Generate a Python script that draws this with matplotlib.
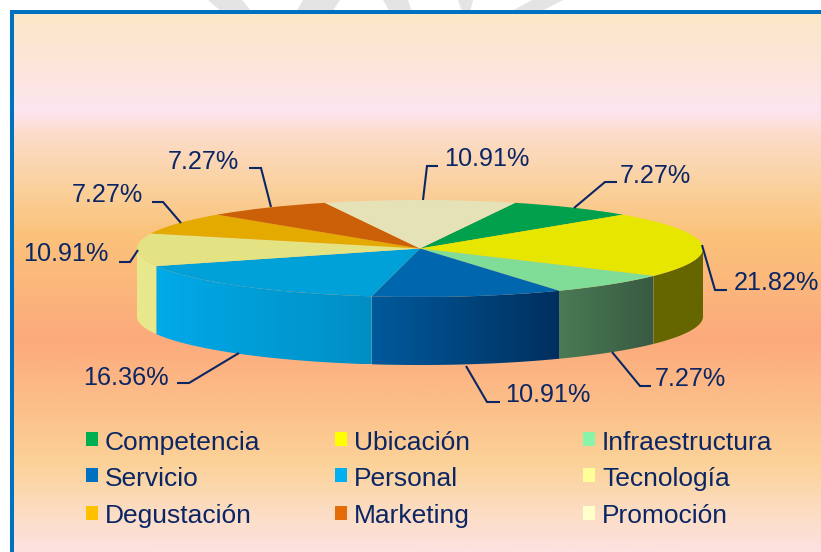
import numpy as np
import matplotlib
matplotlib.use("Agg")
import matplotlib.pyplot as plt
from matplotlib.colors import LinearSegmentedColormap, to_rgb
from matplotlib.patches import Rectangle, Polygon

# ---- data ----
categories = ["Competencia", "Ubicación", "Infraestructura", "Servicio", "Personal",
              "Tecnología", "Degustación", "Marketing", "Promoción"]
values = [7.27, 21.82, 7.27, 10.91, 16.36, 10.91, 7.27, 7.27, 10.91]

# ---- styles ----
top_colors = ["#00a04c", "#e6e600", "#80dd98", "#0066ae", "#00a0d8",
              "#e3e384", "#e4aa00", "#cc6008", "#e6e2b8"]
wall_left = ["#006030", "#666600", "#4a7a54", "#005a9c", "#00aae8",
             "#e8e88c", "#e4aa00", "#cc6008", "#e6e2b8"]
wall_right = ["#006030", "#666600", "#385a42", "#002f5e", "#008ec4",
              "#e8e88c", "#e4aa00", "#cc6008", "#e6e2b8"]
legend_colors = ["#00b050", "#ffff00", "#88f4a8", "#0070c0", "#00b0f0",
                 "#ffff99", "#ffc000", "#e36c09", "#ffffcc"]
TEXT = "#0b2664"
FONT = "Liberation Sans"
W, H = 821, 552

bg_stops = [(14, "#fbe8c8"), (60, "#fce6d8"), (110, "#fde5f0"), (135, "#fcdcc8"),
            (190, "#fad09a"), (235, "#fbc27a"), (340, "#fcaa7c"), (400, "#fcbd88"),
            (465, "#fbd298"), (510, "#fcdcc0"), (552, "#fde2e0")]

# (text left, baseline) and the leader line vertices for each slice, in pixels
label_xy = [(620, 183), (734, 290), (655, 386), (505, 402), (83, 385),
            (23, 261), (72, 202), (168, 169), (444, 166)]
leaders = [[(574, 208), (605, 182), (617, 182)],
           [(702, 245), (715, 290), (727, 290)],
           [(612, 352), (640, 386), (651, 386)],
           [(466, 366), (487, 402), (500, 402)],
           [(239, 353), (189, 383), (177, 383)],
           [(138, 250), (130, 262), (119, 262)],
           [(181, 223), (163, 202), (152, 202)],
           [(271, 207), (261, 168), (249, 168)],
           [(423, 200), (427, 166), (438, 166)]]
legend_x = [86, 335, 583]
legend_y = [432, 468, 506]
legend_base = [450, 486, 523]

fig = plt.figure(figsize=(W / 100, H / 100), dpi=100, facecolor="white")

# pixel-space canvas for the panel
bg = fig.add_axes([0, 0, 1, 1])
bg.set_xlim(0, W)
bg.set_ylim(H, 0)
bg.axis("off")

# faint watermark showing above the panel
for pts in [[(208, 0), (242, 0), (252, 12), (222, 12)],
            [(303, 0), (340, 0), (332, 12), (296, 12)],
            [(383, 0), (408, 0), (412, 12), (390, 12)],
            [(458, 0), (473, 0), (470, 12), (462, 12)],
            [(532, 0), (563, 0), (540, 12), (510, 12)]]:
    bg.add_patch(Polygon(pts, closed=True, fc="#e4e4e4", ec="none"))

ys = [s[0] for s in bg_stops]
pos = [(y - ys[0]) / (ys[-1] - ys[0]) for y in ys]
cmap = LinearSegmentedColormap.from_list("bg", list(zip(pos, [s[1] for s in bg_stops])))
bg.imshow(np.linspace(0, 1, 540)[:, None], extent=(14, W, H, 14), aspect="auto",
          cmap=cmap, vmin=0, vmax=1, zorder=1)
bg.set_xlim(0, W)
bg.set_ylim(H, 0)
bg.add_patch(Rectangle((10, 10), W - 10, 4, fc="#0070c0", ec="none", zorder=2))
bg.add_patch(Rectangle((10, 10), 4, H - 10, fc="#0070c0", ec="none", zorder=2))

# pie axes: x -1..1 spans 137..703 px; y 1..-1 spans 200..297 px
LEFT, RIGHT, TOP_Y, FRONT_Y, DEPTH_PX = 137, 703, 200, 297, 68
ry = (FRONT_Y - TOP_Y) / 2
ax_top, ax_bottom = TOP_Y - 10, FRONT_Y + DEPTH_PX + 10
ax = fig.add_axes([LEFT / W, 1 - ax_bottom / H, (RIGHT - LEFT) / W, (ax_bottom - ax_top) / H])
total = sum(values)
start_offset = values[-1] / total * 180.0  # clockwise degrees from 12 o'clock
ax.pie(values, colors=top_colors, startangle=90 - start_offset, counterclock=False,
       radius=1, wedgeprops=dict(linewidth=0), normalize=True, frame=False)
ax.set_aspect("auto")
ylim = (-1 - (DEPTH_PX + 10) / ry, 1 + 10 / ry)
ax.axis("off")
ax.patch.set_alpha(0)

depth = DEPTH_PX / ry
cum = start_offset
for v, cl, cr in zip(values, wall_left, wall_right):
    a0, a1 = cum, cum + v / total * 360
    cum = a1
    lo, hi = max(a0, 90), min(a1, 270)
    if hi <= lo:
        continue
    th = np.radians(np.linspace(hi, lo, 80))  # left to right on screen
    x, y = np.sin(th), np.cos(th)
    outline = np.column_stack([np.r_[x, x[::-1]], np.r_[y, y[::-1] - depth]])
    poly = Polygon(outline, closed=True, fc="none", ec="none", transform=ax.transData)
    ax.add_patch(poly)
    c0, c1 = np.array(to_rgb(cl)), np.array(to_rgb(cr))
    ramp = c0 + (c1 - c0) * np.linspace(0, 1, 128)[:, None]
    im = ax.imshow(ramp[None, :, :], extent=(x[0], x[-1], y.min() - depth, y.max()),
                   aspect="auto", interpolation="bilinear", zorder=0.5)
    im.set_clip_path(poly)
ax.set_xlim(-1, 1)
ax.set_ylim(*ylim)

# leaders, labels and legend, on a transparent top canvas
fg = fig.add_axes([0, 0, 1, 1])
fg.set_xlim(0, W)
fg.set_ylim(H, 0)
fg.axis("off")
fg.patch.set_alpha(0)
for v, (tx, ty), pts in zip(values, label_xy, leaders):
    xs, yy = zip(*pts)
    fg.plot(xs, yy, color="#0b2664", lw=1.5, solid_joinstyle="miter", solid_capstyle="butt")
    fg.text(tx, ty, f"{v:.2f}%", color=TEXT, fontsize=18.2, family=FONT, va="baseline", ha="left")
for i, (name, col) in enumerate(zip(categories, legend_colors)):
    r, c = divmod(i, 3)
    fg.add_patch(Rectangle((legend_x[c], legend_y[r]), 12, 14, fc=col, ec="none"))
    fg.text(legend_x[c] + 19, legend_base[r], name, color=TEXT, fontsize=19, family=FONT,
            va="baseline", ha="left")
fg.set_xlim(0, W)
fg.set_ylim(H, 0)

fig.savefig("out.png", dpi=100)
